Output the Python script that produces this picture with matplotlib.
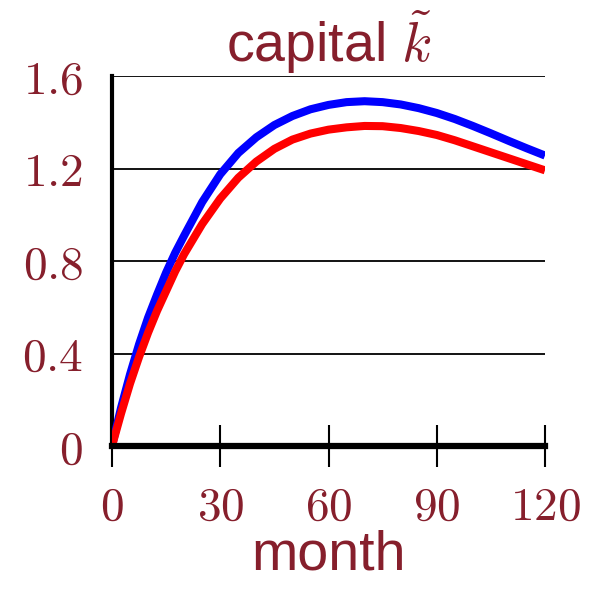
import numpy as np
import matplotlib
matplotlib.use('Agg')
import matplotlib.pyplot as plt

plt.rcParams['mathtext.fontset'] = 'cm'

maroon = '#861f2c'

months = [0, 2.5, 5, 7.5, 10, 12.5, 15, 17.5, 20, 25, 30, 35, 40, 45, 50, 55, 60,
          65, 70, 75, 80, 85, 90, 95, 100, 105, 110, 115, 120]

k_blue = [0, 0.165, 0.31, 0.44, 0.555, 0.655, 0.75, 0.835, 0.91, 1.055, 1.175, 1.267,
          1.335, 1.388, 1.427, 1.456, 1.475, 1.487, 1.491, 1.487, 1.477, 1.461, 1.44,
          1.414, 1.384, 1.352, 1.319, 1.287, 1.256]

k_red = [0, 0.14, 0.27, 0.385, 0.49, 0.585, 0.67, 0.755, 0.83, 0.96, 1.07, 1.16,
         1.23, 1.285, 1.325, 1.351, 1.368, 1.378, 1.384, 1.383, 1.375, 1.362, 1.345,
         1.322, 1.296, 1.27, 1.244, 1.218, 1.192]

xticks = [0, 30, 60, 90, 120]
xlabels = ['$0$', '$30$', '$60$', '$90$', '$120$']
yticks = [0, 0.4, 0.8, 1.2, 1.6]
ylabels = ['$0$', '$0.4$', '$0.8$', '$1.2$', '$1.6$']

fig = plt.figure(figsize=(5.92, 6.02), dpi=100)
ax = fig.add_axes([112/592, 156/602, 433/592, 370/602])

ax.plot(months, k_blue, color='#0000ff', lw=5.8, solid_capstyle='butt',
        solid_joinstyle='round', zorder=3)
ax.plot(months, k_red, color='#ff0000', lw=5.8, solid_capstyle='butt',
        solid_joinstyle='round', zorder=4)

for y in yticks[1:]:
    ax.axhline(y, color='black', lw=1.3, zorder=1)

ax.set_xlim(0, 120)
ax.set_ylim(0, 1.6)
ax.set_xticks(xticks)
ax.set_xticklabels(xlabels)
ax.set_yticks(yticks)
ax.set_yticklabels(ylabels)

ax.tick_params(axis='x', direction='inout', length=30, width=1.5, pad=13,
               labelsize=34, labelcolor=maroon, color='black')
ax.tick_params(axis='y', length=0, pad=21, labelsize=34, labelcolor=maroon)

for s in ['top', 'right']:
    ax.spines[s].set_visible(False)
ax.spines['left'].set_linewidth(3)
ax.spines['bottom'].set_linewidth(4.5)
ax.spines['bottom'].set_zorder(5)

ax.set_xlabel('month', fontsize=40, color=maroon, family='Liberation Sans', labelpad=0)
ax.set_title('capital $\\tilde{k}$', fontsize=40, color=maroon, family='Liberation Sans', pad=2)

fig.savefig('out.png', dpi=100)
